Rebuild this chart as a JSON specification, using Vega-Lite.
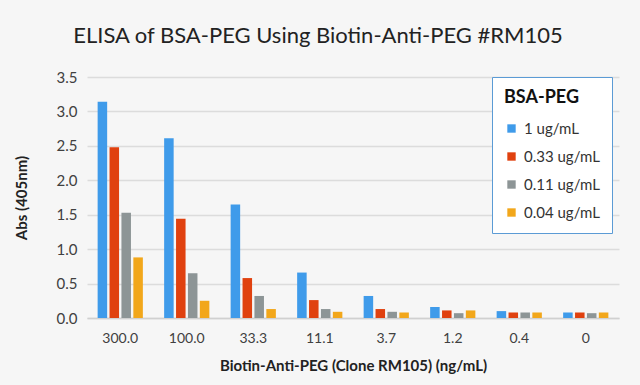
{
  "$schema": "https://vega.github.io/schema/vega-lite/v6.json",
  "width": 532,
  "height": 241,
  "autosize": {"type": "none"},
  "padding": {"left": 87, "top": 77, "right": 21, "bottom": 67},
  "background": "#f6f6f6",
  "title": {
    "text": "ELISA of BSA-PEG Using Biotin-Anti-PEG #RM105",
    "font": "Lato",
    "fontSize": 22,
    "fontWeight": "normal",
    "color": "#222222",
    "anchor": "middle",
    "dx": -35,
    "offset": 22
  },
  "config": {
    "view": {"stroke": null},
    "font": "Lato"
  },
  "data": {
    "values": [
      {"conc": "300.0", "series": "1 ug/mL", "abs": 3.14},
      {"conc": "300.0", "series": "0.33 ug/mL", "abs": 2.48},
      {"conc": "300.0", "series": "0.11 ug/mL", "abs": 1.53},
      {"conc": "300.0", "series": "0.04 ug/mL", "abs": 0.88},
      {"conc": "100.0", "series": "1 ug/mL", "abs": 2.61},
      {"conc": "100.0", "series": "0.33 ug/mL", "abs": 1.44},
      {"conc": "100.0", "series": "0.11 ug/mL", "abs": 0.65},
      {"conc": "100.0", "series": "0.04 ug/mL", "abs": 0.25},
      {"conc": "33.3", "series": "1 ug/mL", "abs": 1.65},
      {"conc": "33.3", "series": "0.33 ug/mL", "abs": 0.58},
      {"conc": "33.3", "series": "0.11 ug/mL", "abs": 0.32},
      {"conc": "33.3", "series": "0.04 ug/mL", "abs": 0.13},
      {"conc": "11.1", "series": "1 ug/mL", "abs": 0.66},
      {"conc": "11.1", "series": "0.33 ug/mL", "abs": 0.26},
      {"conc": "11.1", "series": "0.11 ug/mL", "abs": 0.13},
      {"conc": "11.1", "series": "0.04 ug/mL", "abs": 0.09},
      {"conc": "3.7", "series": "1 ug/mL", "abs": 0.32},
      {"conc": "3.7", "series": "0.33 ug/mL", "abs": 0.13},
      {"conc": "3.7", "series": "0.11 ug/mL", "abs": 0.09},
      {"conc": "3.7", "series": "0.04 ug/mL", "abs": 0.08},
      {"conc": "1.2", "series": "1 ug/mL", "abs": 0.16},
      {"conc": "1.2", "series": "0.33 ug/mL", "abs": 0.11},
      {"conc": "1.2", "series": "0.11 ug/mL", "abs": 0.07},
      {"conc": "1.2", "series": "0.04 ug/mL", "abs": 0.11},
      {"conc": "0.4", "series": "1 ug/mL", "abs": 0.10},
      {"conc": "0.4", "series": "0.33 ug/mL", "abs": 0.08},
      {"conc": "0.4", "series": "0.11 ug/mL", "abs": 0.08},
      {"conc": "0.4", "series": "0.04 ug/mL", "abs": 0.08},
      {"conc": "0", "series": "1 ug/mL", "abs": 0.08},
      {"conc": "0", "series": "0.33 ug/mL", "abs": 0.08},
      {"conc": "0", "series": "0.11 ug/mL", "abs": 0.07},
      {"conc": "0", "series": "0.04 ug/mL", "abs": 0.08}
    ]
  },
  "mark": {"type": "bar"},
  "encoding": {
    "x": {
      "field": "conc",
      "type": "nominal",
      "sort": ["300.0", "100.0", "33.3", "11.1", "3.7", "1.2", "0.4", "0"],
      "scale": {"paddingInner": 0.32, "paddingOuter": 0.16},
      "axis": {
        "title": "Biotin-Anti-PEG  (Clone RM105) (ng/mL)",
        "titleFont": "Lato",
        "titleFontSize": 15,
        "titleFontWeight": "bold",
        "titleColor": "#222222",
        "titlePadding": 13,
        "labelAngle": 0,
        "labelFont": "Lato",
        "labelFontSize": 14,
        "labelColor": "#404040",
        "labelPadding": 13,
        "ticks": false,
        "domainColor": "#d0d0d0",
        "domainWidth": 1.5
      }
    },
    "xOffset": {
      "field": "series",
      "type": "nominal",
      "sort": ["1 ug/mL", "0.33 ug/mL", "0.11 ug/mL", "0.04 ug/mL"],
      "scale": {"paddingInner": 0.2, "paddingOuter": 0}
    },
    "y": {
      "field": "abs",
      "type": "quantitative",
      "scale": {"domain": [0, 3.5]},
      "axis": {
        "title": "Abs (405nm)",
        "titleFont": "Lato",
        "titleFontSize": 15,
        "titleFontWeight": "bold",
        "titleColor": "#222222",
        "titlePadding": 27,
        "values": [0, 0.5, 1, 1.5, 2, 2.5, 3, 3.5],
        "format": ".1f",
        "labelFont": "Lato",
        "labelFontSize": 15,
        "labelColor": "#404040",
        "labelPadding": 10,
        "ticks": false,
        "domain": false,
        "gridColor": "#dcdcdc",
        "gridWidth": 1.5
      }
    },
    "color": {
      "field": "series",
      "type": "nominal",
      "sort": ["1 ug/mL", "0.33 ug/mL", "0.11 ug/mL", "0.04 ug/mL"],
      "scale": {
        "domain": ["1 ug/mL", "0.33 ug/mL", "0.11 ug/mL", "0.04 ug/mL"],
        "range": ["#3f9bea", "#e0410f", "#8d9596", "#f2a71b"]
      },
      "legend": {
        "title": "BSA-PEG",
        "orient": "none",
        "legendX": 405,
        "legendY": 0,
        "fillColor": "#ffffff",
        "strokeColor": "#5b9bd5",
        "padding": 12,
        "titleFont": "Lato",
        "titleFontSize": 18,
        "titleFontWeight": "bold",
        "titleColor": "#111111",
        "titlePadding": 14,
        "labelFont": "Lato",
        "labelFontSize": 15,
        "labelColor": "#333333",
        "symbolType": "square",
        "symbolSize": 70,
        "symbolStrokeWidth": 0,
        "labelOffset": 5,
        "rowPadding": 12
      }
    }
  }
}
